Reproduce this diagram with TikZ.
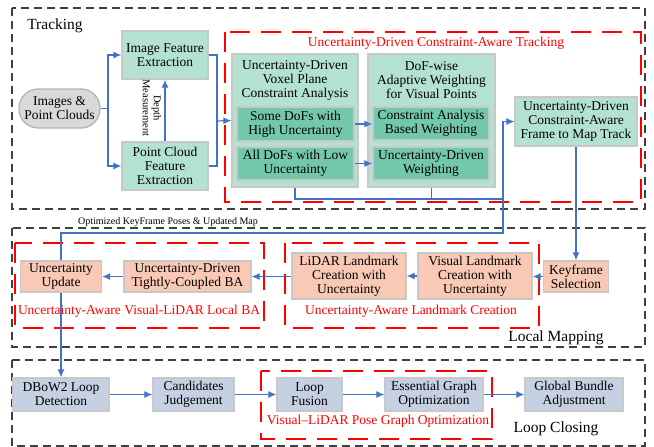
\documentclass[tikz,border=0pt]{standalone}
\usepackage{fontspec}
\setmainfont{Liberation Serif}
\usetikzlibrary{arrows.meta}
\definecolor{lgreen}{HTML}{B3E2D1}
\definecolor{dgreen}{HTML}{73C8AC}
\definecolor{salmon}{HTML}{F9C9B5}
\definecolor{bgray}{HTML}{C5D0E3}
\definecolor{bordgray}{HTML}{C8C8C8}
\definecolor{pillgray}{HTML}{D9D9D9}
\definecolor{lineblue}{HTML}{4472C4}
\definecolor{redd}{HTML}{FF0000}
\tikzset{
  basebox/.style={draw=bordgray, line width=1.3pt, inner sep=0pt, align=center,
    font=\fontsize{13.5}{14}\selectfont},
  gbox/.style={basebox, fill=lgreen},
  dbox/.style={basebox, fill=dgreen},
  sbox/.style={basebox, fill=salmon},
  bbox/.style={basebox, fill=bgray},
  txt/.style={inner sep=0pt, align=center, font=\fontsize{13.5}{14}\selectfont},
  redtxt/.style={inner sep=0pt, align=center, text=redd, font=\fontsize{13.5}{14}\selectfont},
  bigtxt/.style={inner sep=0pt, align=center, font=\fontsize{15.5}{17}\selectfont},
  smalltxt/.style={inner sep=0pt, align=center, font=\fontsize{10}{11}\selectfont},
  blackdash/.style={draw=black!75, line width=1.1pt, dash pattern=on 8pt off 5pt},
  reddash/.style={draw=redd, line width=2pt, dash pattern=on 20pt off 11pt},
  conn/.style={draw=lineblue, line width=1.2pt, -{Latex[length=8pt,width=7pt]}},
  plain/.style={draw=lineblue, line width=1.2pt},
}
\begin{document}
\begin{tikzpicture}[x=1pt,y=-1pt]
\useasboundingbox (0,0) rectangle (654,447);

% dashed group boxes
\draw[blackdash] (12,8) rectangle (645,209);
\draw[blackdash] (12,228) rectangle (645,347);
\draw[blackdash] (12,360) rectangle (645,446);

\draw[reddash] (225,32) rectangle (641,202);
\draw[reddash] (15,243) rectangle (264,328);
\draw[reddash] (285,243) rectangle (539,328);
\draw[reddash] (261,371) rectangle (492,439);

% group labels
\node[bigtxt] (ltrack) at (55,26) {Tracking};
\node[bigtxt] (lmap) at (556,338) {Local Mapping};
\node[bigtxt] (lloop) at (556,429) {Loop Closing};
\node[redtxt] (rtrack) at (436,43) {Uncertainty-Driven Constraint-Aware Tracking};
\node[redtxt] (rba) at (139,311) {Uncertainty-Aware Visual-LiDAR Local BA};
\node[redtxt] (rland) at (411,311) {Uncertainty-Aware Landmark Creation};
\node[redtxt] (rpose) at (378,421) {Visual–LiDAR Pose Graph Optimization};

% tracking nodes
\node[basebox, fill=pillgray, draw=bordgray!90!black, rounded corners=19pt, minimum width=81pt, minimum height=39pt] (img) at (59.5,108.5) {Images \&\\Point Clouds};
\node[gbox, minimum width=86pt, minimum height=48pt] (ife) at (165,55) {Image Feature\\Extraction};
\node[gbox, minimum width=86pt, minimum height=48pt] (pcfe) at (165,166) {Point Cloud\\Feature\\Extraction};
\node[smalltxt, rotate=-90, font=\fontsize{10.5}{11}\selectfont] (depth) at (152,108) {Depth\\Measurement};

\node[gbox, minimum width=126pt, minimum height=133pt] (vox) at (295,120.5) {};
\node[txt] (voxt) at (295,80.5) {Uncertainty-Driven\\Voxel Plane\\Constraint Analysis};
\node[dbox, minimum width=117pt, minimum height=34pt] (some) at (295.5,124) {Some DoFs with\\High Uncertainty};
\node[dbox, minimum width=117pt, minimum height=33pt] (all) at (295.5,163.5) {All DoFs with Low\\Uncertainty};

\node[gbox, minimum width=127pt, minimum height=133pt] (dof) at (431.5,120.5) {};
\node[txt] (doft) at (431.5,80.5) {DoF-wise\\Adaptive Weighting\\for Visual Points};
\node[dbox, minimum width=116pt, minimum height=33pt] (cab) at (431,123.5) {Constraint Analysis\\Based Weighting};
\node[dbox, minimum width=116pt, minimum height=33pt] (udw) at (431,163.5) {Uncertainty-Driven\\Weighting};

\node[gbox, minimum width=122pt, minimum height=49pt] (f2m) at (576,121.5) {Uncertainty-Driven\\Constraint-Aware\\Frame to Map Track};

% local mapping nodes
\node[sbox, minimum width=65pt, minimum height=31pt] (kfs) at (576,276.5) {Keyframe\\Selection};
\node[sbox, minimum width=114pt, minimum height=46pt] (vlc) at (475,276) {Visual Landmark\\Creation with\\Uncertainty};
\node[sbox, minimum width=114pt, minimum height=46pt] (llc) at (349,276) {LiDAR Landmark\\Creation with\\Uncertainty};
\node[sbox, minimum width=127pt, minimum height=31pt] (ba) at (187.5,276.5) {Uncertainty-Driven\\Tightly-Coupled BA};
\node[sbox, minimum width=81pt, minimum height=31pt] (uu) at (61,276.5) {Uncertainty\\Update};

% loop closing nodes
\node[bbox, minimum width=96pt, minimum height=33pt] (dbow) at (61,394.5) {DBoW2 Loop\\Detection};
\node[bbox, minimum width=81pt, minimum height=33pt] (cand) at (193.5,394.5) {Candidates\\Judgement};
\node[bbox, minimum width=65pt, minimum height=33pt] (lf) at (309.5,394.5) {Loop\\Fusion};
\node[bbox, minimum width=98pt, minimum height=33pt] (ego) at (434,394.5) {Essential Graph\\Optimization};
\node[bbox, minimum width=98pt, minimum height=33pt] (gba) at (574,394.5) {Global Bundle\\Adjustment};

% connectors: tracking
\coordinate (jimg) at (108,108.5);
\draw[plain] (img.east) -- (jimg);
\draw[conn] (jimg) |- (ife.west);
\draw[conn] (jimg) |- (pcfe.west);
\draw[conn] (pcfe.north) -- (ife.south);
\coordinate (jfe) at (217,121);
\draw[plain] (ife.east) -| (jfe);
\draw[plain] (pcfe.east) -| (jfe);
\draw[conn] (jfe) -- (vox.west);
\draw[conn] (some.east) -- (some.east -| cab.west);
\draw[conn] (all.east) -- (all.east -| udw.west);

\coordinate (j1) at (503,199);
\draw[plain] (vox.south) |- (j1);
\draw[plain] (dof.south) |- (j1);
\draw[conn] (j1) |- (f2m.west);

% feedback from local mapping
\coordinate (j2) at (503,233);
\draw[plain] (uu.north) |- (j2) -- (j1);
\node[smalltxt] (optlbl) at (168,222) {Optimized KeyFrame Poses \& Updated Map};

\draw[conn] (f2m.south) -- (kfs.north);

% local mapping chain
\draw[conn] (kfs.west) -- (vlc.east |- kfs.west);
\draw[conn] (vlc.west) -- (llc.east);
\draw[conn] (llc.west |- ba.east) -- (ba.east);
\draw[conn] (ba.west) -- (uu.east);

\draw[conn] (uu.south) -- (dbow.north);

% loop closing chain
\draw[conn] (dbow.east) -- (cand.west);
\draw[conn] (cand.east) -- (lf.west);
\draw[conn] (lf.east) -- (ego.west);
\draw[conn] (ego.east) -- (gba.west);
\end{tikzpicture}
\end{document}
